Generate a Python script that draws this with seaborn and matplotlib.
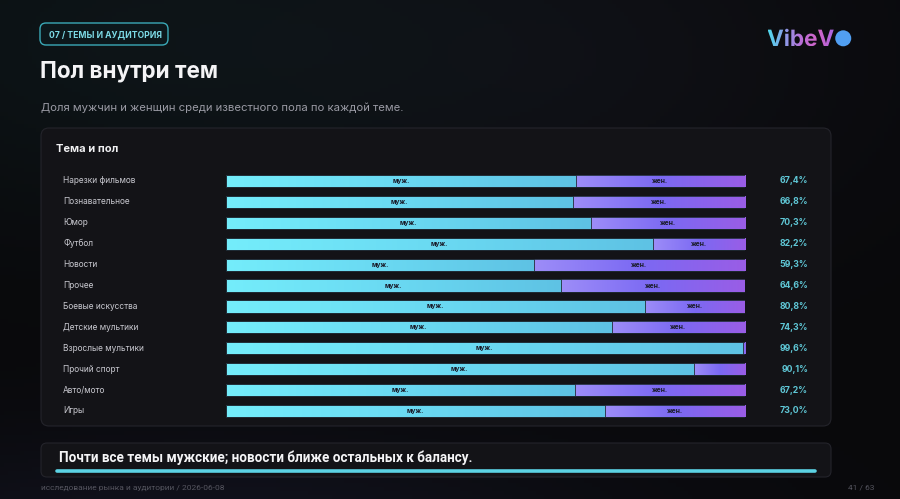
import numpy as np
import pandas as pd
import seaborn as sns
from matplotlib import pyplot as plt
from matplotlib.colors import LinearSegmentedColormap, to_rgb
from matplotlib.patches import FancyBboxPatch, Circle, PathPatch
from matplotlib.textpath import TextPath
from matplotlib.font_manager import FontProperties
from matplotlib.transforms import Affine2D, blended_transform_factory

topics = ["Нарезки фильмов", "Познавательное", "Юмор", "Футбол", "Новости", "Прочее",
          "Боевые искусства", "Детские мультики", "Взрослые мультики", "Прочий спорт",
          "Авто/мото", "Игры"]
male_share = [67.4, 66.8, 70.3, 82.2, 59.3, 64.6, 80.8, 74.3, 99.6, 90.1, 67.2, 73.0]
female_share = [32.6, 33.2, 29.7, 17.8, 40.7, 35.4, 19.2, 25.7, 0.4, 9.9, 32.8, 27.0]

male_label = "муж."
female_label = "жен."

W, H = 900, 499

sns.set_style("white")
plt.rcParams['font.family'] = ['Inter', 'DejaVu Sans']


def gradient_cmap(stops):
    return LinearSegmentedColormap.from_list("g", stops)


male_cmap = gradient_cmap(["#74edfb", "#6ad9f2", "#5ec2e4"])
female_cmap = gradient_cmap(["#9d8df8", "#7b69f3", "#9a5de6"])
logo_cmap = gradient_cmap(["#4fdaee", "#8c9ce8", "#bb6ed8", "#d264c6", "#a866e4"])


def gradient_fill(ax, extent, cmap, clip, zorder):
    grad = np.linspace(0, 1, 256).reshape(1, -1)
    im = ax.imshow(grad, extent=extent, cmap=cmap, aspect='auto',
                   origin='lower', interpolation='bicubic', zorder=zorder)
    im.set_clip_path(clip)
    return im


fig = plt.figure(figsize=(W / 100, H / 100), dpi=100)
fig.patch.set_facecolor("#09090b")

# background layer in pixel coordinates
bg = fig.add_axes([0, 0, 1, 1], zorder=0)
bg.set_xlim(0, W)
bg.set_ylim(H, 0)
bg.axis('off')

yy, xx = np.mgrid[0:H:4, 0:W:4]
base = np.array(to_rgb("#09090b"))
glow1 = np.array(to_rgb("#0d1417")) - base
glow2 = np.array(to_rgb("#11121d")) - base
glow3 = np.array(to_rgb("#0e0e13")) - base
d1 = np.exp(-(((xx - 150) / 380) ** 2 + ((yy - 40) / 180) ** 2))
d2 = np.exp(-(((xx - 200) / 420) ** 2 + ((yy - 540) / 110) ** 2))
d3 = np.exp(-(((xx - 600) / 300) ** 2 + ((yy - 60) / 200) ** 2))
img = base + d1[..., None] * glow1 + d2[..., None] * glow2 + d3[..., None] * glow3
bg.imshow(np.clip(img, 0, 1), extent=(0, W, H, 0), aspect='auto', zorder=0)

# badge
bg.add_patch(FancyBboxPatch((40, 23), 128, 22, boxstyle="round,pad=0,rounding_size=6",
                            fc="#0c171b", ec="#3aa9b7", lw=1.0, zorder=2))
bg.text(49, 34.5, "07 / ТЕМЫ И АУДИТОРИЯ", color="#7cd9e5", fontsize=6.2,
        fontweight='bold', va='center', ha='left', zorder=3)

# logo
fp = FontProperties(family='Inter', weight='bold')
tp = TextPath((0, 0), "VibeV", size=22.5, prop=fp)
logo_path = Affine2D().scale(1, -1).translate(767, 46).transform_path(tp)
ext = logo_path.get_extents()
logo_patch = PathPatch(logo_path, fc='none', ec='none', transform=bg.transData)
bg.add_patch(logo_patch)
gradient_fill(bg, (ext.x0, ext.x1, ext.y0, ext.y1), logo_cmap, logo_patch, 3)
bg.add_patch(Circle((ext.x1 + 9.5, 38.3), 8, fc="#519ff2", ec='none', zorder=3))

# title and subtitle
bg.text(40, 71.5, "Пол внутри тем", color="#f4f4f6", fontsize=16.2, fontweight='bold',
        va='center', ha='left', zorder=3)
bg.text(41, 108, "Доля мужчин и женщин среди известного пола по каждой теме.",
        color="#9a9aa4", fontsize=8.15, va='center', ha='left', zorder=3)

# chart panel
bg.add_patch(FancyBboxPatch((41, 128), 790, 298, boxstyle="round,pad=0,rounding_size=8",
                            fc="#131317", ec="#24242b", lw=0.8, zorder=2))
bg.text(56, 149, "Тема и пол", color="#f0f0f2", fontsize=8, fontweight='bold',
        va='center', ha='left', zorder=3)

# takeaway panel
bg.add_patch(FancyBboxPatch((41, 443), 790, 34, boxstyle="round,pad=0,rounding_size=6",
                            fc="#131317", ec="#24242b", lw=0.8, zorder=2))
bg.text(59, 458, "Почти все темы мужские; новости ближе остальных к балансу.",
        color="#f4f4f6", fontsize=9.75, fontweight='bold', family=['Roboto', 'DejaVu Sans'],
        va='center', ha='left', zorder=3)
bg.plot([57, 815], [471, 471], color="#5cd3e4", lw=2.6, solid_capstyle='round', zorder=3)

# footer
bg.text(41, 488, "исследование рынка и аудитории / 2026-06-08", color="#55555f",
        fontsize=6, family=['Roboto', 'DejaVu Sans'], va='center', ha='left', zorder=3)
bg.text(874, 488, "41 / 63", color="#55555f", fontsize=6,
        family=['Roboto', 'DejaVu Sans'], va='center', ha='right', zorder=3)

# chart
df = pd.DataFrame({"topic": topics, "male": male_share, "female": female_share})
df["total"] = df["male"] + df["female"]

row_top, row_bottom, row_step = 181, 411, (411 - 181) / 11
ax_top = row_top - row_step / 2
ax_bottom = row_bottom + row_step / 2
ax = fig.add_axes([226 / W, 1 - ax_bottom / H, (745 - 226) / W, (ax_bottom - ax_top) / H],
                  zorder=1)
ax.patch.set_alpha(0)

sns.barplot(data=df, y="topic", x="total", orient="h", color="#7b69f3",
            saturation=1, width=0.58, ax=ax)
sns.barplot(data=df, y="topic", x="male", orient="h", color="#6ad9f2",
            saturation=1, width=0.58, ax=ax)

n = len(topics)
female_bars = ax.patches[:n]
male_bars = ax.patches[n:2 * n]
for fbar, mbar in zip(female_bars, male_bars):
    y0, h = mbar.get_y(), mbar.get_height()
    m = mbar.get_width()
    t = fbar.get_width()
    gradient_fill(ax, (m, t, y0, y0 + h), female_cmap, fbar, 2)
    gradient_fill(ax, (0, m, y0, y0 + h), male_cmap, mbar, 3)
    for bar in (fbar, mbar):
        bar.set_facecolor('none')
        bar.set_edgecolor("#1f2c36")
        bar.set_linewidth(0.6)
        bar.set_zorder(4)

for i, (m, f) in enumerate(zip(male_share, female_share)):
    ax.text(m / 2, i, male_label, ha='center', va='center', fontsize=4.8,
            fontweight='bold', color="#1a1c2a", zorder=5)
    if f >= 12:
        ax.text(m + f / 2, i, female_label, ha='center', va='center', fontsize=4.8,
                fontweight='bold', color="#1a1c2a", zorder=5)

tr = blended_transform_factory(fig.transFigure, ax.transData)
for i, (name, m) in enumerate(zip(topics, male_share)):
    ax.text(63 / W, i, name, transform=tr, ha='left', va='center', fontsize=6,
            color="#c9c9d0", clip_on=False)
    ax.text(808 / W, i, f"{m:.1f}".replace('.', ',') + "%", transform=tr, ha='right',
            va='center', fontsize=6.3, fontweight='bold', color="#5fc7d6", clip_on=False)

ax.set_xlim(0, 100)
ax.set_ylim(n - 0.5, -0.5)
ax.set_xlabel("")
ax.set_ylabel("")
ax.set_xticks([])
ax.set_yticks([])
for s in ax.spines.values():
    s.set_visible(False)

plt.savefig("out.png", dpi=100, facecolor=fig.get_facecolor())
